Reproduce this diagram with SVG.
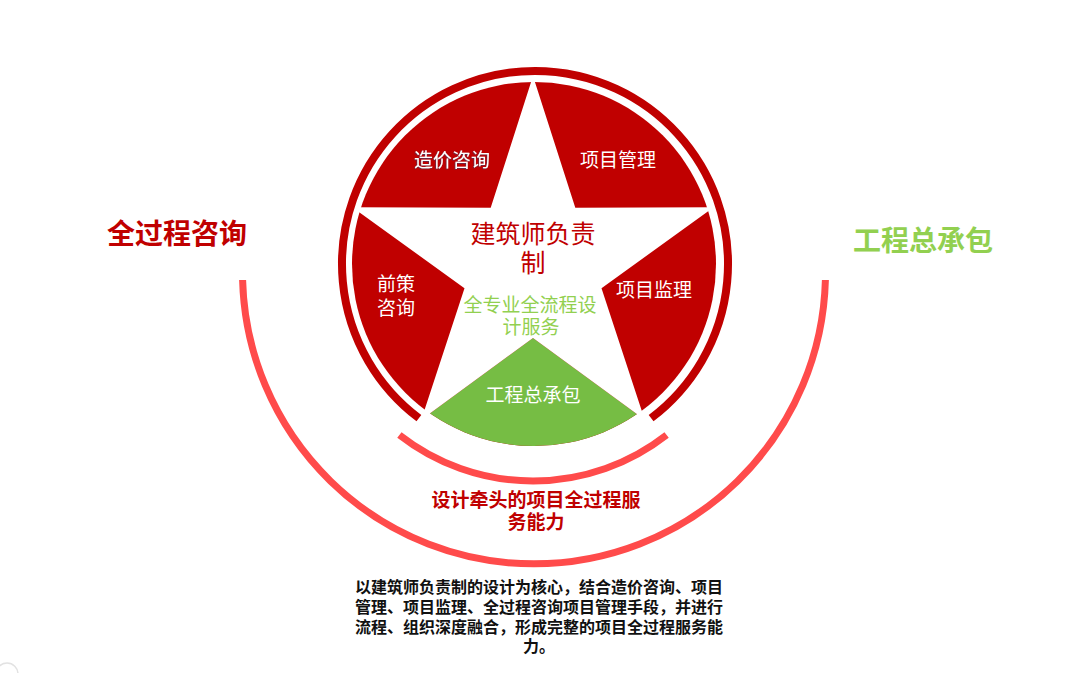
<svg xmlns="http://www.w3.org/2000/svg" width="1080" height="673" viewBox="0 0 1080 673">
  <style>
    .cjk { font-family: "Liberation Sans", "Noto Sans CJK SC", sans-serif; }
    .seg { font-size: 19px; fill: #ffffff; text-anchor: middle; }
    .title { font-size: 28px; font-weight: bold; text-anchor: middle; }
    .red { fill: #C00000; }
    .green { fill: #92D050; }
    .pink { fill: none; stroke: #FF4B4B; stroke-width: 7; }
  </style>
  <defs>
    <clipPath id="discClip">
      <circle cx="534" cy="264" r="182"/>
    </clipPath>
    <filter id="shadow" x="-10%" y="-20%" width="120%" height="140%">
      <feDropShadow dx="-0.6" dy="0.6" stdDeviation="0.4" flood-color="#2e4a78" flood-opacity="0.9"/>
    </filter>
  </defs>
  <rect x="0" y="0" width="1080" height="673" fill="#ffffff"/>

  <g id="star-wheel">
    <circle cx="534" cy="264" r="182" fill="#C00000"/>
    <polygon clip-path="url(#discClip)" points="533,338 644.7,419.7 644.7,500 421.3,500 421.3,419.7" fill="#76BD44"/>
    <polygon points="533,76 575.3,207.8 713.7,207.3 601.5,288.2 644.7,419.7 533,338 421.3,419.7 464.5,288.2 352.3,207.3 490.7,207.8" fill="#ffffff"/>
  </g>

  <g id="connectors">
    <path d="M 418.9 418.1 A 193 193 0 1 1 651.1 418.1" fill="none" stroke="#C00000" stroke-width="8"/>
    <path class="pink" d="M 399.4 435 A 217 217 0 0 0 666.6 435"/>
    <path class="pink" d="M 242.6 280 A 291.5 291.5 0 0 0 825.4 280"/>
    <circle cx="7" cy="674" r="11" fill="none" stroke="#e2e2e2" stroke-width="1.5"/>
  </g>

  <g id="node-zaojia">
    <text class="cjk seg" x="452" y="167" filter="url(#shadow)">造价咨询</text>
  </g>
  <g id="node-xiangmuguanli">
    <text class="cjk seg" x="618" y="167">项目管理</text>
  </g>
  <g id="node-qiance">
    <text class="cjk seg" x="396" y="291">前策</text>
    <text class="cjk seg" x="396" y="315">咨询</text>
  </g>
  <g id="node-jianli">
    <text class="cjk seg" x="654" y="297">项目监理</text>
  </g>
  <g id="node-zongchengbao">
    <text class="cjk seg" x="533" y="402">工程总承包</text>
  </g>
  <g id="node-center">
    <text class="cjk red" x="533" y="243" font-size="25" text-anchor="middle">建筑师负责</text>
    <text class="cjk red" x="533" y="272" font-size="25" text-anchor="middle">制</text>
    <text class="cjk green" x="530" y="312" font-size="19" text-anchor="middle">全专业全流程设</text>
    <text class="cjk green" x="531" y="334" font-size="19" text-anchor="middle">计服务</text>
  </g>

  <g id="node-left-title">
    <text class="cjk title red" x="177" y="244">全过程咨询</text>
  </g>
  <g id="node-right-title">
    <text class="cjk title green" x="923" y="251">工程总承包</text>
  </g>

  <g id="node-capability">
    <text class="cjk red" x="536" y="507" font-size="19" font-weight="bold" text-anchor="middle">设计牵头的项目全过程服</text>
    <text class="cjk red" x="536" y="529" font-size="19" font-weight="bold" text-anchor="middle">务能力</text>
  </g>

  <g id="node-description" class="cjk" font-size="16" font-weight="bold" fill="#111111" text-anchor="middle">
    <text x="539" y="593">以建筑师负责制的设计为核心，结合造价咨询、项目</text>
    <text x="539" y="613">管理、项目监理、全过程咨询项目管理手段，并进行</text>
    <text x="539" y="633">流程、组织深度融合，形成完整的项目全过程服务能</text>
    <text x="539" y="652">力。</text>
  </g>
</svg>
